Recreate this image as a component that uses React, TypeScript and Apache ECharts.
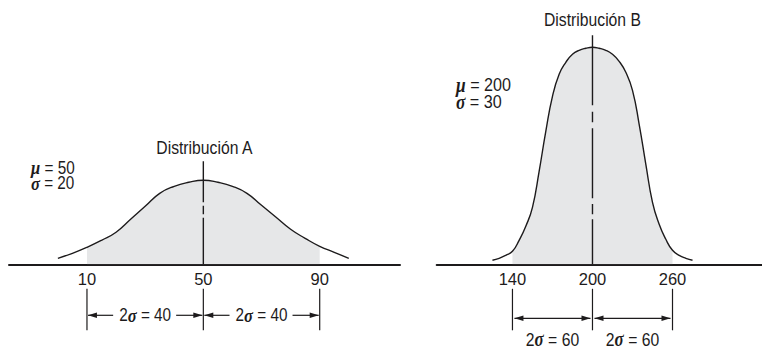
import React, { useEffect, useRef } from "react";
import * as echarts from "echarts";

// ---- Data ----
const distAX = [0, 5, 10, 15, 20, 25, 30, 35, 40, 45, 50, 55, 60, 65, 70, 75, 80, 85, 90, 95, 100];
const distAY = [6, 11, 17, 24, 32, 45, 58, 71, 78, 82, 84, 82, 78, 71, 59, 47, 35, 26, 18, 12, 6];
const distBX = [125, 130, 135, 140, 145, 150, 155, 160, 165, 170, 175, 180, 185, 190, 195, 200,
  205, 210, 215, 220, 225, 230, 235, 240, 245, 250, 255, 260, 265, 270, 275];
const distBY = [4, 6, 9, 13, 24, 38, 57, 93, 133, 168, 190, 202, 210, 214, 216, 217,
  216, 214, 210, 203, 192, 174, 140, 100, 62, 40, 25, 14, 9, 6, 4];

const muA = 50, sigmaA = 20;
const muB = 200, sigmaB = 30;
const ticksA = [10, 50, 90];
const ticksB = [140, 200, 260];
const titleA = "Distribución A";
const titleB = "Distribución B";
const rangeA = [-16.8, 117.6];
const rangeB = [83.2, 327.1];
const yRange = [0, 230];
const centerTopA = 103; // height of the centre line (y units)
const centerTopB = 229;
const dashA = [41, 3.5, 8.5, 3.5, 300];
const dashB = [70, 6.5, 10.5, 6, 70, 5.7, 10.3, 5, 300];

const FONT = "'Liberation Sans', Arial, Helvetica, sans-serif";
const GREEK = "'Liberation Serif', 'DejaVu Serif', serif";
const INK = "#1d1b1c";
const FILL = "#e6e7e8";
const SX = 0.85; // horizontal condensing of annotation text

function pairs(xs: number[], ys: number[], lo = -Infinity, hi = Infinity) {
  const out: number[][] = [];
  xs.forEach((x, i) => {
    if (x >= lo && x <= hi) out.push([x, ys[i]]);
  });
  return out;
}

export default function App() {
  const ref = useRef<HTMLDivElement>(null);
  useEffect(() => {
    if (!ref.current) return;
    const chart = echarts.init(ref.current, undefined, { renderer: "svg" });
    const xAxisBase = (gridIndex: number, range: number[], ticks: number[]) => ({
      gridIndex,
      type: "value",
      min: range[0],
      max: range[1],
      axisLine: { show: true, onZero: false, lineStyle: { color: INK, width: 2 } },
      axisTick: { show: false },
      splitLine: { show: false },
      axisLabel: {
        customValues: ticks,
        fontSize: 16.5,
        color: INK,
        margin: 6,
        fontFamily: FONT,
      },
    });
    const yAxisBase = (gridIndex: number) => ({
      gridIndex,
      type: "value",
      min: yRange[0],
      max: yRange[1],
      show: false,
      splitLine: { show: false },
    });
    const fillSeries = (idx: number, data: number[][]) => ({
      type: "line",
      xAxisIndex: idx,
      yAxisIndex: idx,
      data,
      smooth: true,
      symbol: "none",
      silent: true,
      lineStyle: { width: 0 },
      areaStyle: { color: FILL, opacity: 1 },
      z: 1,
    });
    const lineSeries = (idx: number, data: number[][]) => ({
      type: "line",
      xAxisIndex: idx,
      yAxisIndex: idx,
      data,
      smooth: true,
      symbol: "none",
      silent: true,
      lineStyle: { color: INK, width: 1.4 },
      z: 3,
    });
    chart.setOption({
      animation: false,
      textStyle: { fontFamily: FONT },
      grid: [
        { left: 9, top: 34.3, width: 391, height: 230, containLabel: false, outerBoundsMode: "none" },
        { left: 436.7, top: 34.3, width: 325.3, height: 230, containLabel: false, outerBoundsMode: "none" },
      ],
      xAxis: [xAxisBase(0, rangeA, ticksA), xAxisBase(1, rangeB, ticksB)],
      yAxis: [yAxisBase(0), yAxisBase(1)],
      series: [
        fillSeries(0, pairs(distAX, distAY, muA - 2 * sigmaA, muA + 2 * sigmaA)),
        lineSeries(0, pairs(distAX, distAY)),
        fillSeries(1, pairs(distBX, distBY, muB - 2 * sigmaB, muB + 2 * sigmaB)),
        lineSeries(1, pairs(distBX, distBY)),
      ],
    });

    const px = (g: number, x: number, y: number) =>
      chart.convertToPixel({ gridIndex: g } as any, [x, y]) as number[];

    const els: any[] = [];
    const line = (x1: number, y1: number, x2: number, y2: number, w = 1.2, dash?: number[]) =>
      els.push({
        type: "line",
        silent: true,
        z: 10,
        shape: { x1, y1, x2, y2 },
        style: { stroke: INK, lineWidth: w, lineDash: dash },
      });
    const head = (x: number, y: number, dir: number) =>
      els.push({
        type: "polygon",
        silent: true,
        z: 10,
        shape: { points: [[x, y], [x + dir * 9, y - 2.8], [x + dir * 9, y + 2.8]] },
        style: { fill: INK },
      });
    const text = (t: string, x: number, y: number, size: number, align = "center", lh?: number) =>
      els.push({
        type: "text",
        silent: true,
        z: 10,
        x,
        y,
        scaleX: SX,
        style: {
          text: t,
          fill: INK,
          fontSize: size,
          fontFamily: FONT,
          align,
          verticalAlign: "middle",
          lineHeight: lh,
          rich: {
            g: { fontFamily: GREEK, fontStyle: "italic", fontWeight: "bold", fontSize: size + 1.5, fill: INK, lineHeight: lh },
          },
        },
      });

    // Panel A
    {
      const [cx, y0] = px(0, muA, 0);
      const [, yTop] = px(0, muA, centerTopA);
      line(cx, yTop, cx, y0, 1.4, dashA);
      text(titleA, cx + 1, yTop - 13.5, 18.5);
      text(`{g|μ} = ${muA}\n{g|σ} = ${sigmaA}`, 31, 175.5, 18, "left", 15.5);
      const xs = [muA - 2 * sigmaA, muA, muA + 2 * sigmaA].map((v) => px(0, v, 0)[0]);
      xs.forEach((x) => line(x, y0 + 24.5, x, y0 + 66));
      const ay = y0 + 51;
      for (let i = 0; i < 2; i++) {
        const a = xs[i], b = xs[i + 1], m = (a + b) / 2;
        line(a + 1, ay, m - 32, ay);
        head(a + 1, ay, 1);
        line(m + 31, ay, b - 1, ay);
        head(b - 1, ay, -1);
        text(`2{g|σ} = ${2 * sigmaA}`, m, ay, 18);
      }
    }
    // Panel B
    {
      const [cx, y0] = px(1, muB, 0);
      const [, yTop] = px(1, muB, centerTopB);
      line(cx, yTop, cx, y0, 1.4, dashB);
      text(titleB, cx, yTop - 16, 18.5);
      text(`{g|μ} = ${muB}\n{g|σ} = ${sigmaB}`, 456, 93.5, 19, "left", 17);
      const xs = [muB - 2 * sigmaB, muB, muB + 2 * sigmaB].map((v) => px(1, v, 0)[0]);
      xs.forEach((x) => line(x, y0 + 24.5, x, y0 + 66));
      const ay = y0 + 54;
      for (let i = 0; i < 2; i++) {
        const a = xs[i], b = xs[i + 1], m = (a + b) / 2;
        line(a + 2, ay, b - 2, ay);
        head(a + 2, ay, 1);
        head(b - 2, ay, -1);
        text(`2{g|σ} = ${2 * sigmaB}`, m, y0 + 75, 18.5);
      }
    }
    chart.setOption({ graphic: els });
    return () => chart.dispose();
  }, []);
  return (
    <div
      ref={ref}
      style={{ position: "absolute", left: 0, top: 0, width: 762, height: 350, background: "#fff" }}
    />
  );
}
